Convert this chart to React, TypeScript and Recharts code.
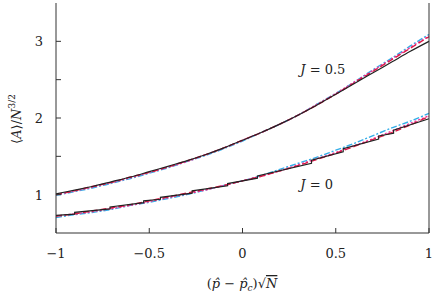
import { Line, LineChart, ReferenceDot, XAxis, YAxis } from 'recharts';

const xs = [-1, -0.9, -0.8, -0.7, -0.6, -0.5, -0.4, -0.3, -0.2, -0.1, 0, 0.1, 0.2, 0.3, 0.4, 0.5, 0.6, 0.7, 0.8, 0.9, 1];

// J = 0.5
const j05Black = [1.01, 1.06, 1.11, 1.17, 1.23, 1.3, 1.37, 1.44, 1.52, 1.61, 1.71, 1.81, 1.92, 2.04, 2.17, 2.31, 2.45, 2.59, 2.73, 2.87, 3.0];
const j05Red = [1.0, 1.05, 1.11, 1.16, 1.23, 1.29, 1.36, 1.44, 1.52, 1.61, 1.71, 1.81, 1.92, 2.04, 2.17, 2.31, 2.46, 2.61, 2.76, 2.91, 3.06];
const j05Magenta = [1.0, 1.05, 1.1, 1.16, 1.22, 1.29, 1.36, 1.43, 1.52, 1.61, 1.71, 1.81, 1.92, 2.04, 2.18, 2.32, 2.47, 2.62, 2.77, 2.92, 3.07];
const j05Blue = [0.99, 1.04, 1.09, 1.15, 1.21, 1.28, 1.35, 1.43, 1.51, 1.6, 1.7, 1.81, 1.92, 2.04, 2.18, 2.32, 2.47, 2.63, 2.78, 2.94, 3.09];

// J = 0
const j0Red = [0.72, 0.75, 0.79, 0.83, 0.87, 0.92, 0.97, 1.02, 1.07, 1.12, 1.18, 1.24, 1.31, 1.38, 1.46, 1.54, 1.63, 1.72, 1.81, 1.91, 2.02];
const j0Magenta = [0.72, 0.75, 0.78, 0.82, 0.86, 0.91, 0.96, 1.01, 1.06, 1.12, 1.18, 1.24, 1.31, 1.39, 1.47, 1.55, 1.64, 1.73, 1.83, 1.93, 2.03];
const j0Blue = [0.7, 0.74, 0.77, 0.81, 0.86, 0.9, 0.95, 1.0, 1.06, 1.12, 1.18, 1.25, 1.33, 1.41, 1.49, 1.58, 1.67, 1.77, 1.87, 1.96, 2.06];

// black J = 0 curve is a staircase
const j0StepX = [-1, -0.9, -0.9, -0.71, -0.71, -0.53, -0.53, -0.44, -0.44, -0.27, -0.27, -0.08, -0.08, 0.08, 0.08, 0.37, 0.37, 0.54, 0.54, 0.73, 0.73, 0.81, 0.81, 1];
const j0StepY = [0.73, 0.745, 0.77, 0.815, 0.84, 0.895, 0.92, 0.94, 0.965, 1.02, 1.05, 1.115, 1.145, 1.215, 1.245, 1.41, 1.45, 1.56, 1.6, 1.725, 1.765, 1.8, 1.84, 1.99];

const xTicks = [-1, -0.5, 0, 0.5, 1];
const yTicks = [1, 1.5, 2, 2.5, 3];

const FONT = '"DejaVu Serif", "Times New Roman", serif';
const AXIS = '#333';

const rows = xs.map((x, i) => ({
  x,
  a: j05Black[i],
  b: j05Red[i],
  c: j05Magenta[i],
  d: j05Blue[i],
  e: j0Red[i],
  f: j0Magenta[i],
  g: j0Blue[i]
}));
const steps = j0StepX.map((x, i) => ({ x, s: j0StepY[i] }));

const fmt = (v: number) => (v < 0 ? '\u2212' + Math.abs(v) : String(v));

function BottomTick({ x, y, payload }: any) {
  return (
    <g>
      <line x1={x} x2={x} y1={y} y2={y - 5} stroke={AXIS} />
      <text x={x} y={y + 25} textAnchor="middle" fontFamily={FONT} fontSize={13} fill="#222">
        {fmt(payload.value)}
      </text>
    </g>
  );
}

function TopTick({ x, y }: any) {
  return <line x1={x} x2={x} y1={y} y2={y + 5} stroke={AXIS} />;
}

function LeftTick({ x, y, payload }: any) {
  const v = payload.value;
  return (
    <g>
      <line x1={x} x2={x + 5} y1={y} y2={y} stroke={AXIS} />
      {Number.isInteger(v) && (
        <text x={x - 13} y={y + 5} textAnchor="end" fontFamily={FONT} fontSize={13} fill="#222">
          {v}
        </text>
      )}
    </g>
  );
}

function RightTick({ x, y }: any) {
  return <line x1={x} x2={x - 5} y1={y} y2={y} stroke={AXIS} />;
}

const note = (text: React.ReactNode) => (props: any) => (
  <text x={props.viewBox.x} y={props.viewBox.y} fontFamily={FONT} fontSize={13} fill="#222">
    {text}
  </text>
);

export default function App() {
  return (
    <div style={{ position: 'absolute', left: 0, top: 0, background: '#fff' }}>
      <LineChart width={435} height={294} margin={{ top: 3, right: 0, left: 0, bottom: 0 }}>
        <XAxis
          xAxisId="b"
          dataKey="x"
          type="number"
          domain={[-1, 1]}
          ticks={xTicks}
          height={61}
          tickSize={0}
          tickMargin={0}
          tickLine={false}
          stroke={AXIS}
          tick={<BottomTick />}
          label={() => (
            <text x={242} y={288} textAnchor="middle" fontFamily={FONT} fontSize={13} fill="#222">
              (<tspan fontStyle="italic">p̂</tspan> − <tspan fontStyle="italic">p̂</tspan>
              <tspan fontSize={9} fontStyle="italic" dy={3}>c</tspan>
              <tspan dy={-3}>)√</tspan>
              <tspan fontStyle="italic" textDecoration="overline">N</tspan>
            </text>
          )}
        />
        <XAxis
          xAxisId="t"
          orientation="top"
          type="number"
          domain={[-1, 1]}
          ticks={xTicks}
          height={0}
          tickSize={0}
          tickMargin={0}
          tickLine={false}
          stroke={AXIS}
          tick={<TopTick />}
        />
        <YAxis
          yAxisId="l"
          type="number"
          domain={[0.5, 3.5]}
          ticks={yTicks}
          width={56}
          tickSize={0}
          tickMargin={0}
          tickLine={false}
          stroke={AXIS}
          tick={<LeftTick />}
          label={() => (
            <text x={21} y={119} transform="rotate(-90 21 119)" textAnchor="middle" fontFamily={FONT} fontSize={13} fill="#222">
              ⟨<tspan fontStyle="italic">A</tspan>⟩/<tspan fontStyle="italic">N</tspan>
              <tspan fontSize={9} dy={-6}>3/2</tspan>
            </text>
          )}
        />
        <YAxis
          yAxisId="r"
          orientation="right"
          type="number"
          domain={[0.5, 3.5]}
          ticks={yTicks}
          width={6}
          tickSize={0}
          tickMargin={0}
          tickLine={false}
          stroke={AXIS}
          tick={<RightTick />}
        />
        <Line data={rows} xAxisId="b" yAxisId="l" dataKey="d" type="monotone" stroke="#35aee8" strokeWidth={1.4} strokeDasharray="6 2 2 2" dot={false} isAnimationActive={false} />
        <Line data={rows} xAxisId="b" yAxisId="l" dataKey="c" type="monotone" stroke="#f0329a" strokeWidth={1.4} strokeDasharray="2 2" dot={false} isAnimationActive={false} />
        <Line data={rows} xAxisId="b" yAxisId="l" dataKey="b" type="monotone" stroke="#dc1a46" strokeWidth={1.4} strokeDasharray="6 3" dot={false} isAnimationActive={false} />
        <Line data={rows} xAxisId="b" yAxisId="l" dataKey="a" type="monotone" stroke="#222" strokeWidth={1.2} dot={false} isAnimationActive={false} />
        <Line data={rows} xAxisId="b" yAxisId="l" dataKey="g" type="monotone" stroke="#35aee8" strokeWidth={1.4} strokeDasharray="6 2 2 2" dot={false} isAnimationActive={false} />
        <Line data={rows} xAxisId="b" yAxisId="l" dataKey="f" type="monotone" stroke="#f0329a" strokeWidth={1.4} strokeDasharray="2 2" dot={false} isAnimationActive={false} />
        <Line data={rows} xAxisId="b" yAxisId="l" dataKey="e" type="monotone" stroke="#dc1a46" strokeWidth={1.4} strokeDasharray="6 3" dot={false} isAnimationActive={false} />
        <Line data={steps} xAxisId="b" yAxisId="l" dataKey="s" type="linear" stroke="#222" strokeWidth={1.2} dot={false} isAnimationActive={false} />
        <ReferenceDot xAxisId="b" yAxisId="l" x={0.31} y={2.58} r={0} label={note(<><tspan fontStyle="italic">J</tspan> = 0.5</>)} />
        <ReferenceDot xAxisId="b" yAxisId="l" x={0.31} y={1.07} r={0} label={note(<><tspan fontStyle="italic">J</tspan> = 0</>)} />
      </LineChart>
    </div>
  );
}
